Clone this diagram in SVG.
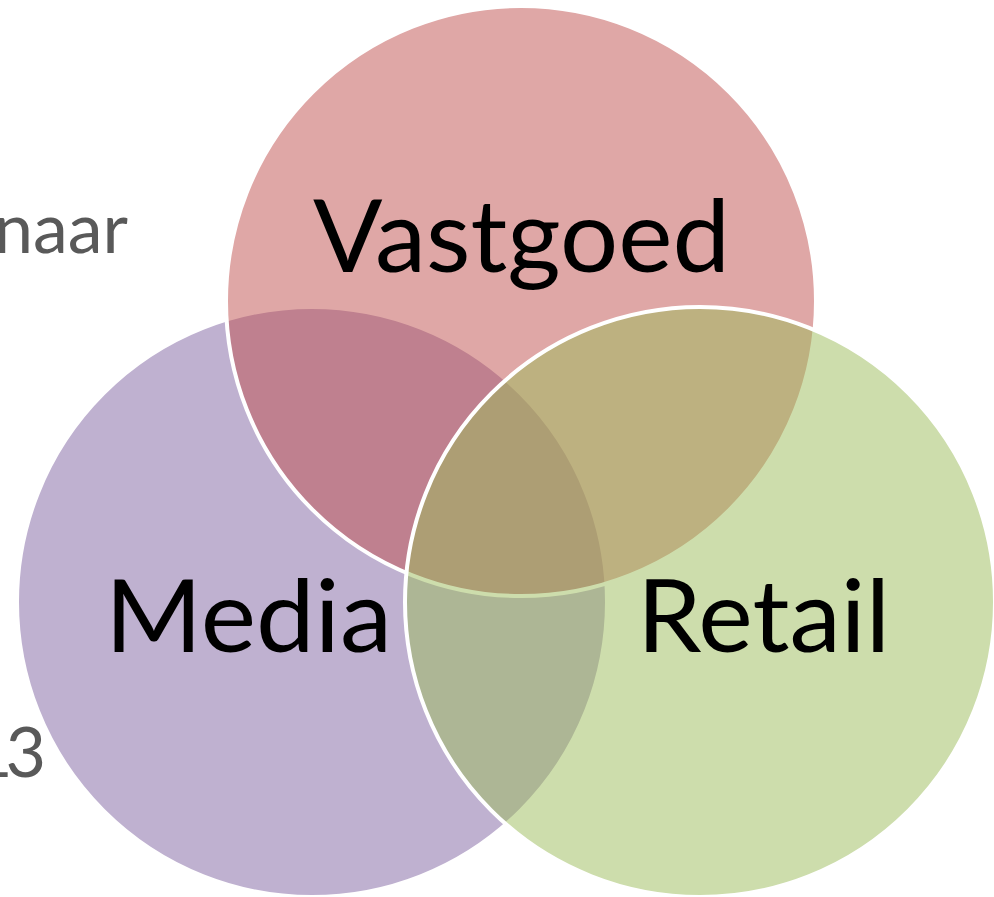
<svg xmlns="http://www.w3.org/2000/svg" width="994" height="897" viewBox="0 0 994 897">
<style>
.c{stroke:#ffffff;stroke-width:4}
.lbl{font-family:Lato,"Open Sans","Liberation Sans",sans-serif;fill:#000000;font-size:100px}
.bg{font-family:Lato,"Open Sans","Liberation Sans",sans-serif;fill:#595959;font-size:70px}
</style>
<rect width="994" height="897" fill="#ffffff"/>
<g id="background-text">
<text class="bg" x="128" y="253" text-anchor="end">naar</text>
<text class="bg" x="3" y="560" text-anchor="end">n</text>
<text class="bg" x="-28" y="777" textLength="74" lengthAdjust="spacing">13</text>
</g>
<g id="media">
<circle class="c" cx="312" cy="602" r="295" fill="#8064A2" fill-opacity="0.5"/>
</g>
<g id="vastgoed">
<circle class="c" cx="521" cy="301" r="295" fill="#C0504D" fill-opacity="0.5"/>
</g>
<g id="retail">
<circle class="c" cx="700" cy="602" r="295" fill="#9BBB59" fill-opacity="0.5"/>
</g>
<g id="labels">
<text class="lbl" x="313" y="272" textLength="417" lengthAdjust="spacingAndGlyphs">Vastgoed</text>
<text class="lbl" x="105" y="652" textLength="287" lengthAdjust="spacingAndGlyphs">Media</text>
<text class="lbl" x="637" y="652" textLength="253" lengthAdjust="spacingAndGlyphs">Retail</text>
</g>
</svg>
